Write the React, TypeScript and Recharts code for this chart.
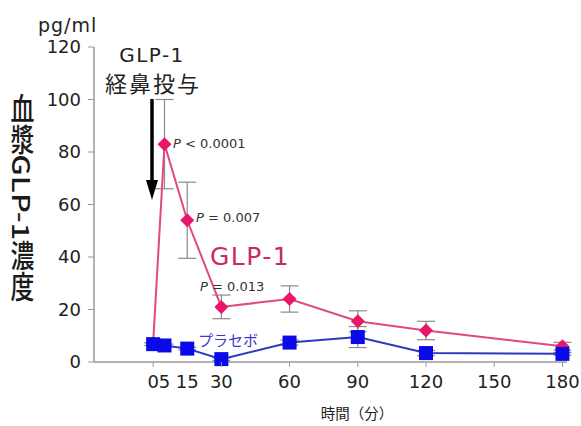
import React from "react";
import { LineChart, Line, XAxis, YAxis, ErrorBar } from "recharts";

const times = [0, 5, 15, 30, 60, 90, 120, 180];
const glp1Values = [7, 83, 54, 21, 24, 15.5, 12, 6];
const glp1Errors = [0, 17, 14.5, 4.5, 5, 4, 3.5, 1.5];
const placeboValues = [6.8, 6.3, 5.1, 1.1, 7.4, 9.5, 3.4, 3.1];
const placeboErrors = [0.5, 0.5, 0.5, 0.5, 1, 4, 1, 0.5];
const xTickLabels = [0, 5, 15, 30, 60, 90, 120, 150, 180];
const xTickMarks = [0, 30, 60, 90, 120, 150, 180];
const yTicks = [0, 20, 40, 60, 80, 100, 120];

const data = times.map((t, i) => ({
  t,
  glp1: glp1Values[i],
  glp1Err: glp1Errors[i],
  placebo: placeboValues[i],
  placeboErr: placeboErrors[i],
}));

const NUM_FONT = "DejaVu Sans, Arial, sans-serif";
const CJK_FONT = "'Noto Sans CJK JP', 'Noto Sans', sans-serif";
const PINK = "#e8176a";
const PINK_LINE = "#e04a80";
const BLUE = "#0a0ae8";
const BLUE_LINE = "#2a3ac0";

const Diamond = (props: any) => {
  const { cx, cy } = props;
  if (cx == null || cy == null) return null;
  const r = 7;
  return (
    <path
      d={`M${cx},${cy - r}L${cx + r},${cy}L${cx},${cy + r}L${cx - r},${cy}Z`}
      fill={PINK}
      stroke="none"
    />
  );
};

const Square = (props: any) => {
  const { cx, cy } = props;
  if (cx == null || cy == null) return null;
  return <rect x={cx - 7} y={cy - 7} width={14} height={14} fill={BLUE} />;
};

const XTick = (props: any) => {
  const { x, y, payload } = props;
  const v = payload.value;
  return (
    <g>
      {xTickMarks.includes(v) && (
        <line x1={x} x2={x} y1={y - 8} y2={y - 3} stroke="#999" strokeWidth={1} />
      )}
      <text
        x={x}
        y={y + 18}
        textAnchor="middle"
        fontFamily={NUM_FONT}
        fontSize={18}
        fill="#222"
      >
        {v}
      </text>
    </g>
  );
};

export default function App() {
  return (
    <div style={{ position: "absolute", left: 0, top: 0, width: 581, height: 426, background: "#fff" }}>
      <LineChart
        width={581}
        height={426}
        data={data}
        margin={{ top: 47, right: 14, bottom: 34, left: 0 }}
      >
        <XAxis
          dataKey="t"
          type="number"
          domain={[-26, 182]}
          ticks={xTickLabels}
          tick={<XTick />}
          tickLine={false}
          axisLine={{ stroke: "#999", strokeWidth: 1.5 }}
          height={30}
          interval={0}
        />
        <YAxis
          type="number"
          domain={[0, 120]}
          ticks={yTicks}
          width={94}
          tickSize={6}
          tickMargin={7}
          axisLine={{ stroke: "#999", strokeWidth: 1.5 }}
          tickLine={{ stroke: "#999" }}
          tick={{ fontFamily: NUM_FONT, fontSize: 18, fill: "#222" }}
        />
        <Line
          dataKey="glp1"
          stroke={PINK_LINE}
          strokeWidth={2}
          dot={<Diamond />}
          activeDot={false}
          isAnimationActive={false}
        >
          <ErrorBar dataKey="glp1Err" width={9} stroke="#8a8a8a" strokeWidth={1.2} direction="y" />
        </Line>
        <Line
          dataKey="placebo"
          stroke={BLUE_LINE}
          strokeWidth={2}
          dot={<Square />}
          activeDot={false}
          isAnimationActive={false}
        >
          <ErrorBar dataKey="placeboErr" width={9} stroke="#8a8a8a" strokeWidth={1.2} direction="y" />
        </Line>
      </LineChart>
      <svg
        width={581}
        height={426}
        style={{ position: "absolute", left: 0, top: 0, pointerEvents: "none" }}
      >
        <text x={38} y={32} fontFamily={NUM_FONT} fontSize={19} fill="#222" letterSpacing={1}>
          pg/ml
        </text>
        <text x={152} y={62} textAnchor="middle" fontFamily={NUM_FONT} fontSize={20} fill="#222" letterSpacing={1.5}>
          GLP-1
        </text>
        <text x={153} y={92} textAnchor="middle" fontFamily={CJK_FONT} fontSize={22} fill="#222" letterSpacing={2}>
          経鼻投与
        </text>
        <line x1={152} x2={152} y1={99} y2={182} stroke="#000" strokeWidth={3.5} />
        <path d="M146,180L158,180L152,200Z" fill="#000" />
        <text x={173} y={148} fontFamily={NUM_FONT} fontSize={13} fill="#333">
          <tspan fontStyle="italic">P</tspan> &lt; 0.0001
        </text>
        <text x={196} y={222} fontFamily={NUM_FONT} fontSize={13} fill="#333">
          <tspan fontStyle="italic">P</tspan> = 0.007
        </text>
        <text x={200} y={291} fontFamily={NUM_FONT} fontSize={13} fill="#333">
          <tspan fontStyle="italic">P</tspan> = 0.013
        </text>
        <text x={210} y={265} fontFamily={NUM_FONT} fontSize={25} fill="#cc2a5c" letterSpacing={1.5}>
          GLP-1
        </text>
        <text x={198} y={346} fontFamily={CJK_FONT} fontSize={15} fill="#3a3acb">
          プラセボ
        </text>
        <text x={357} y={419} textAnchor="middle" fontFamily={CJK_FONT} fontSize={14.5} fill="#222">
          時間（分）
        </text>
      </svg>
      <div
        style={{
          position: "absolute",
          left: 9,
          top: 93,
          writingMode: "vertical-rl",
          fontFamily: CJK_FONT,
          fontSize: 26,
          lineHeight: "28px",
          letterSpacing: 0,
          color: "#1a1a1a",
          fontWeight: 500,
          transform: "scale(0.92, 1.18)",
          transformOrigin: "top left",
        }}
      >
        血漿GLP-1濃度
      </div>
    </div>
  );
}
